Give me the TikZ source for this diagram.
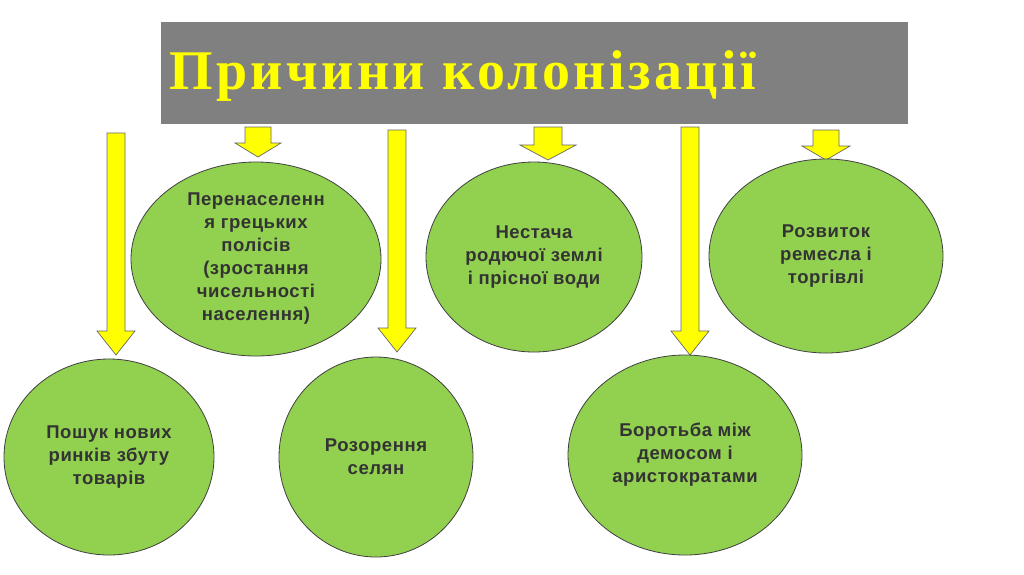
\documentclass[tikz,border=0pt]{standalone}
\usetikzlibrary{shapes.geometric}
\usepackage{fontspec}
\setmainfont{Liberation Sans}
\newfontfamily\titlefont[LetterSpace=6]{Liberation Serif}
\newfontfamily\lblfont[LetterSpace=3]{Liberation Sans}
\begin{document}
\begin{tikzpicture}[x=1pt,y=-1pt,
  ell/.style={draw=black!75,line width=0.8pt,fill=cgreen,ellipse,inner sep=0pt},
  lbl/.style={align=center,font=\lblfont\bfseries\fontsize{18.5}{23}\selectfont,text=black!80},
  arr/.style={draw=black!60,line width=0.7pt,fill=cyellow}]
\definecolor{cgreen}{HTML}{92D050}
\definecolor{cyellow}{HTML}{FFFF00}
\useasboundingbox (0,0) rectangle (1024,574);
\fill[white] (0,0) rectangle (1024,574);
\node[fill=black!50,minimum width=747pt,minimum height=102pt,anchor=north west,inner sep=0pt] (title) at (161,22) {};
\node[anchor=west,text=cyellow,font=\titlefont\bfseries\fontsize{56}{60}\selectfont] (ttext) at (166,76) {Причини колонізації};
% arrows: x, top, bottom, half shaft, half head, head length
\newcommand\downarrowblk[6]{\draw[arr] (#1-#4,#2) -- (#1+#4,#2) -- (#1+#4,#3-#6) -- (#1+#5,#3-#6) -- (#1,#3) -- (#1-#5,#3-#6) -- (#1-#4,#3-#6) -- cycle;}
\downarrowblk{258}{127}{157}{13}{23}{14}
\downarrowblk{548}{127}{160}{14}{28}{15}
\downarrowblk{826}{130}{160}{13}{24}{14}
\downarrowblk{116}{133}{355}{9}{19}{24}
\downarrowblk{397}{130}{352}{9}{19}{24}
\downarrowblk{690}{127}{355}{9}{19}{24}
\node[ell,minimum width=250pt,minimum height=194pt] (e1) at (256,259) {};
\node[lbl] at (e1) {Перенаселенн\\я грецьких\\полісів\\(зростання\\чисельності\\населення)};
\node[ell,minimum width=216pt,minimum height=190pt] (e2) at (534,257) {};
\node[lbl] at (e2) {Нестача\\родючої землі\\і прісної води};
\node[ell,minimum width=234pt,minimum height=194pt] (e3) at (826,256) {};
\node[lbl] at (e3) {Розвиток\\ремесла і\\торгівлі};
\node[ell,minimum width=210pt,minimum height=196pt] (e4) at (109,457) {};
\node[lbl] at (e4) {Пошук нових\\ринків збуту\\товарів};
\node[ell,minimum width=194pt,minimum height=200pt] (e5) at (376,457) {};
\node[lbl] at (e5) {Розорення\\селян};
\node[ell,minimum width=234pt,minimum height=200pt] (e6) at (685,455) {};
\node[lbl] at (e6) {Боротьба між\\демосом і\\аристократами};
\end{tikzpicture}
\end{document}
